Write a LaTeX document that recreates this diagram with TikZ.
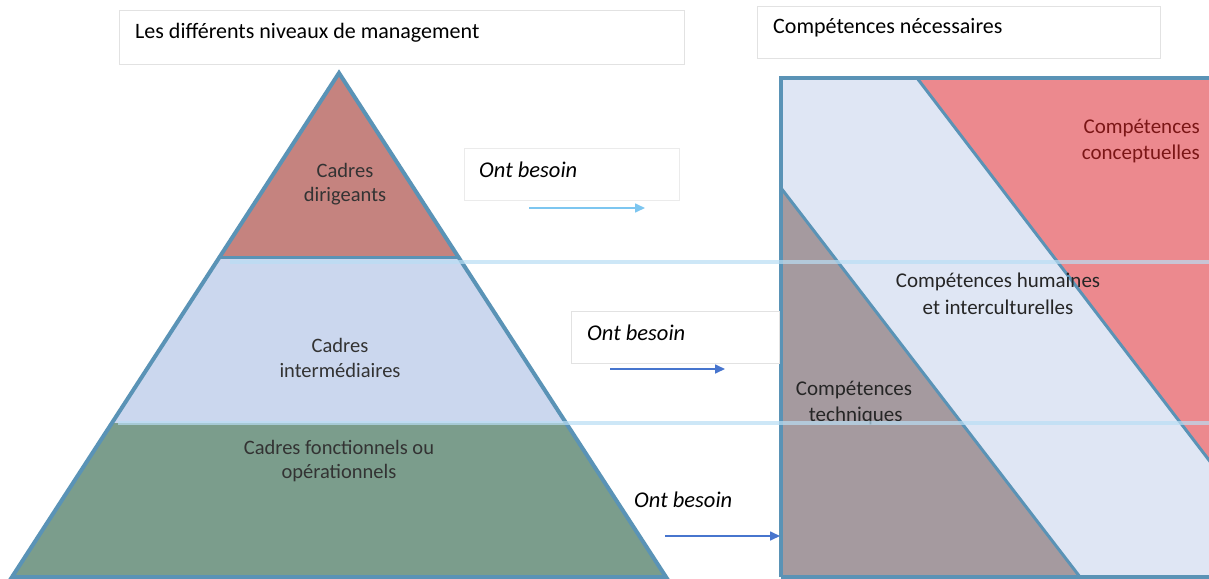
\documentclass[tikz,border=0pt]{standalone}
\usepackage{fontspec}
\setmainfont{Carlito}
\usetikzlibrary{arrows.meta}
\definecolor{outl}{HTML}{5A93B6}
\definecolor{topred}{HTML}{C5837F}
\definecolor{midblue}{HTML}{CBD7EE}
\definecolor{botgreen}{HTML}{7B9D8C}
\definecolor{sepblue}{HTML}{B9DEF4}
\definecolor{lavender}{HTML}{DFE6F4}
\definecolor{conred}{HTML}{EC898E}
\definecolor{techgray}{HTML}{A59A9F}
\definecolor{contxt}{HTML}{7B1616}
\definecolor{arrowlight}{HTML}{7DC6F0}
\definecolor{arrowdark}{HTML}{4775CE}
\definecolor{boxgray}{HTML}{E2E2E2}
\tikzset{
  titlebox/.style={draw=boxgray, line width=0.8pt, fill=white},
  lbl/.style={font=\fontsize{20.5}{24.5}\selectfont, align=center, text=black!80, inner sep=0pt},
  onttxt/.style={font=\fontsize{22.5}{24}\selectfont\itshape, anchor=west, inner sep=0pt},
  ttl/.style={font=\fontsize{22}{24}\selectfont, anchor=west, inner sep=0pt},
  sep/.style={draw=sepblue, line width=4pt, opacity=0.7},
  arr/.style={-{Triangle[length=10pt,width=9pt]}, line width=1.6pt},
  rtxt/.style={font=\fontsize{21}{26.5}\selectfont, align=center, inner sep=0pt},
}
\begin{document}
\begin{tikzpicture}[x=1pt,y=-1pt]
\useasboundingbox (0,0) rectangle (1209,578);
\clip (0,0) rectangle (1209,578);
\fill[white] (0,0) rectangle (1209,578);

% title boxes
\draw[titlebox] (119,10) rectangle (684,64);
\node[ttl] (t1) at (135,33) {Les différents niveaux de management};
\draw[titlebox] (757,6) rectangle (1160,58);
\node[ttl] (t2) at (773,28) {Compétences nécessaires};

% pyramid sections
\fill[topred] (339,73) -- (458.4,257) -- (219.6,257) -- cycle;
\fill[midblue] (219.6,257) -- (458.4,257) -- (566,423) -- (112,423) -- cycle;
\fill[botgreen] (112,423) -- (566,423) -- (666,577) -- (12,577) -- cycle;
\draw[outl, line width=3pt] (219.6,257) -- (458.4,257);
\draw[outl, line width=4pt, line join=miter] (339,73) -- (666,577) -- (12,577) -- cycle;

% pyramid labels
\node[lbl] (l1) at (345,184) {Cadres\\dirigeants};
\node[lbl] (l2) at (340,358) {Cadres\\intermédiaires};
\node[lbl] (l3) at (339,461) {Cadres fonctionnels ou\\opérationnels};

% right box
\fill[lavender] (781,78) rectangle (1215,577);
\fill[conred] (917,78) -- (1215,78) -- (1215,468) -- cycle;
\fill[techgray] (781,188) -- (1080,577) -- (781,577) -- cycle;
\draw[outl, line width=3pt] (917,78) -- (1215,468);
\draw[outl, line width=3pt] (781,188) -- (1080,577);
\draw[outl, line width=4pt] (781,577) -- (781,78) -- (1215,78);
\draw[outl, line width=4pt] (781,577) -- (1215,577);

\node[rtxt, text=contxt, align=right, anchor=east] (c1) at (1200,141) {Compétences\\conceptuelles};
\node[rtxt, text=black!85] (c2) at (998,294) {Compétences humaines\\et interculturelles};
\node[rtxt, text=black!85] (c3) at (854,403) {Compétences\\\,techniques};

% separators
\coordinate (s1a) at (230,262);
\coordinate (s1b) at (1209,262);
\coordinate (s2a) at (118,423);
\coordinate (s2b) at (1209,423);
\draw[sep] (s1a) -- (s1b);
\draw[sep] (s2a) -- (s2b);

% "Ont besoin" boxes and arrows
\draw[draw=boxgray!70, line width=0.8pt, fill=white] (464,148) rectangle (679,200);
\node[onttxt] (o1) at (479,170) {Ont besoin};
\coordinate (a1s) at (529,208);
\coordinate (a1e) at (645,208);
\draw[arr, arrowlight] (a1s) -- (a1e);

\draw[draw=boxgray, line width=0.8pt, fill=white] (571,311) rectangle (779,363);
\node[onttxt] (o2) at (587,333) {Ont besoin};
\coordinate (a2s) at (610,369);
\coordinate (a2e) at (725,369);
\draw[arr, arrowdark] (a2s) -- (a2e);

\node[onttxt] (o3) at (634,500) {Ont besoin};
\coordinate (a3s) at (665,536);
\coordinate (a3e) at (780,536);
\draw[arr, arrowdark] (a3s) -- (a3e);
\end{tikzpicture}
\end{document}
